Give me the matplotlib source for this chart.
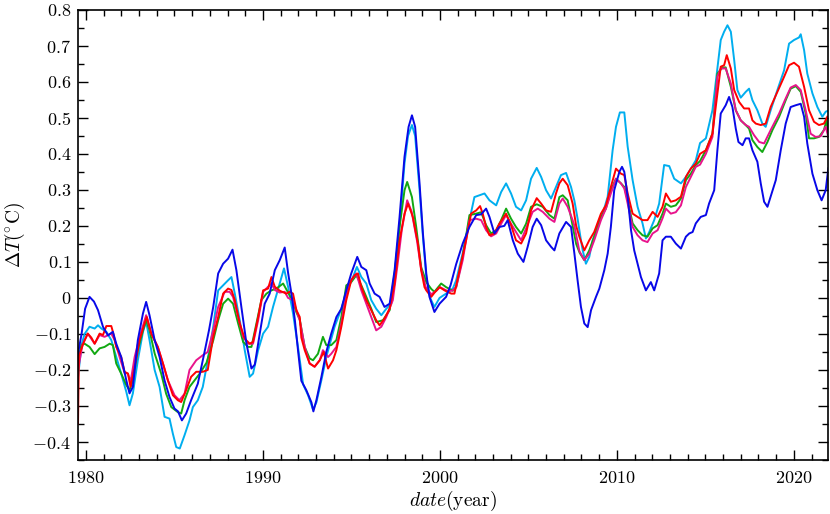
import matplotlib
matplotlib.use("Agg")
import matplotlib.pyplot as plt
from matplotlib.ticker import MultipleLocator, FuncFormatter

plt.rcParams['font.family'] = 'serif'
plt.rcParams['font.serif'] = ['cmr10']
plt.rcParams['mathtext.fontset'] = 'cm'
plt.rcParams['axes.formatter.use_mathtext'] = True

# red series
red_t = [1979.55, 1979.6, 1979.9, 1980.1, 1980.3, 1980.49, 1980.77, 1980.96, 1981.15, 1981.43,
         1981.52, 1981.71, 1981.99, 1982.18, 1982.37, 1982.52, 1982.75, 1983.03, 1983.31, 1983.44,
         1983.69, 1984.06, 1984.35, 1984.63, 1984.91, 1985.19, 1985.38, 1985.66, 1985.94, 1986.23,
         1986.6, 1986.88, 1987.19, 1987.47, 1987.75, 1988.03, 1988.22, 1988.41, 1988.69, 1988.97,
         1989.25, 1989.44, 1989.73, 1990.01, 1990.29, 1990.48, 1990.67, 1990.95, 1991.32, 1991.51,
         1991.7, 1991.89, 1992.08, 1992.17, 1992.36, 1992.64, 1992.92, 1993.21, 1993.43, 1993.68,
         1993.96, 1994.15, 1994.43, 1994.71, 1994.99, 1995.18, 1995.37, 1995.56, 1995.84, 1996.12,
         1996.4, 1996.59, 1996.87, 1997.16, 1997.44, 1997.72, 1998.0, 1998.2, 1998.47, 1998.76,
         1998.94, 1999.13, 1999.23, 1999.51, 1999.7, 1999.98, 2000.26, 2000.64, 2000.82, 2001.11,
         2001.48, 2001.76, 2002.05, 2002.27, 2002.42, 2002.61, 2002.8, 2003.08, 2003.36, 2003.74,
         2004.02, 2004.3, 2004.59, 2004.87, 2005.15, 2005.47, 2005.72, 2006.0, 2006.28, 2006.56,
         2006.75, 2006.94, 2007.22, 2007.5, 2007.7, 2007.88, 2008.16, 2008.44, 2008.72, 2009.1,
         2009.38, 2009.66, 2009.95, 2010.23, 2010.42, 2010.61, 2010.89, 2011.17, 2011.45, 2011.73,
         2012.02, 2012.3, 2012.58, 2012.77, 2013.05, 2013.33, 2013.62, 2013.9, 2014.18, 2014.46,
         2014.7, 2015.03, 2015.4, 2015.68, 2015.87, 2016.06, 2016.21, 2016.44, 2016.63, 2016.91,
         2017.19, 2017.47, 2017.66, 2017.85, 2018.13, 2018.41, 2018.69, 2019.07, 2019.45, 2019.73,
         2020.01, 2020.29, 2020.58, 2020.86, 2021.14, 2021.42, 2021.7, 2021.89]
red_v = [-0.35, -0.16, -0.12, -0.099, -0.11, -0.127, -0.099, -0.103, -0.078, -0.078,
         -0.094, -0.136, -0.164, -0.205, -0.21, -0.247, -0.191, -0.117, -0.071, -0.053,
         -0.099, -0.136, -0.182, -0.229, -0.27, -0.284, -0.289, -0.256, -0.219, -0.205,
         -0.205, -0.2, -0.108, -0.053, 0.012, 0.026, 0.022, -0.006, -0.071, -0.113,
         -0.127, -0.122, -0.053, 0.021, 0.026, 0.058, 0.031, 0.02, 0.012, 0.017,
         0.012, -0.034, -0.053, -0.11, -0.145, -0.182, -0.191, -0.173, -0.15, -0.196,
         -0.173, -0.145, -0.08, -0.006, 0.049, 0.063, 0.068, 0.031, -0.006, -0.034,
         -0.062, -0.076, -0.057, -0.03, 0.04, 0.16, 0.234, 0.262, 0.225, 0.151,
         0.077, 0.03, 0.021, 0.003, 0.015, 0.03, 0.021, 0.012, 0.012, 0.077,
         0.16, 0.234, 0.243, 0.255, 0.234, 0.197, 0.174, 0.179, 0.206, 0.234,
         0.202, 0.16, 0.151, 0.179, 0.243, 0.277, 0.262, 0.243, 0.239, 0.29,
         0.318, 0.331, 0.313, 0.262, 0.2, 0.17, 0.132, 0.16, 0.183, 0.234,
         0.257, 0.308, 0.359, 0.345, 0.341, 0.29, 0.234, 0.225, 0.216, 0.216,
         0.239, 0.225, 0.253, 0.29, 0.267, 0.271, 0.281, 0.336, 0.359, 0.373,
         0.4, 0.41, 0.456, 0.568, 0.642, 0.646, 0.674, 0.637, 0.577, 0.544,
         0.526, 0.526, 0.493, 0.484, 0.48, 0.484, 0.53, 0.572, 0.614, 0.646,
         0.653, 0.642, 0.586, 0.521, 0.489, 0.48, 0.484, 0.503]

# magenta series
mag_t = [1979.55, 1979.8, 1980.1, 1980.49, 1980.77, 1981.05, 1981.43, 1981.62, 1981.9, 1982.18,
         1982.37, 1982.52, 1982.75, 1983.03, 1983.4, 1983.69, 1984.06, 1984.35, 1984.63, 1985.0,
         1985.28, 1985.57, 1985.85, 1986.23, 1986.6, 1986.88, 1987.19, 1987.47, 1987.84, 1988.12,
         1988.31, 1988.6, 1988.88, 1989.16, 1989.44, 1989.73, 1990.01, 1990.29, 1990.48, 1990.67,
         1990.95, 1991.23, 1991.42, 1991.7, 1992.08, 1992.36, 1992.64, 1992.92, 1993.21, 1993.39,
         1993.68, 1993.86, 1994.15, 1994.43, 1994.71, 1994.99, 1995.28, 1995.56, 1995.84, 1996.12,
         1996.4, 1996.69, 1996.97, 1997.34, 1997.6, 1997.85, 1998.15, 1998.4, 1998.7, 1998.94,
         1999.2, 1999.51, 1999.8, 2000.0, 2000.4, 2000.7, 2000.92, 2001.29, 2001.67, 2002.05,
         2002.33, 2002.61, 2002.89, 2003.18, 2003.46, 2003.74, 2004.02, 2004.3, 2004.59, 2004.87,
         2005.24, 2005.53, 2005.81, 2006.19, 2006.47, 2006.75, 2006.94, 2007.22, 2007.5, 2007.6,
         2007.88, 2008.16, 2008.44, 2008.72, 2009.1, 2009.38, 2009.66, 2009.95, 2010.23, 2010.42,
         2010.61, 2010.89, 2011.17, 2011.45, 2011.73, 2012.02, 2012.3, 2012.58, 2012.77, 2013.05,
         2013.33, 2013.62, 2013.9, 2014.18, 2014.46, 2014.7, 2015.03, 2015.4, 2015.68, 2015.87,
         2016.15, 2016.44, 2016.72, 2017.0, 2017.28, 2017.47, 2017.75, 2018.04, 2018.32, 2018.69,
         2019.17, 2019.54, 2019.82, 2020.11, 2020.39, 2020.67, 2020.95, 2021.23, 2021.52, 2021.8,
         2021.95]
mag_v = [-0.2, -0.13, -0.099, -0.127, -0.103, -0.108, -0.099, -0.117, -0.164, -0.208,
         -0.21, -0.233, -0.164, -0.108, -0.048, -0.099, -0.136, -0.182, -0.229, -0.27,
         -0.284, -0.266, -0.2, -0.173, -0.159, -0.15, -0.09, -0.025, 0.017, 0.017,
         0.003, -0.053, -0.108, -0.127, -0.127, -0.062, 0.017, 0.031, 0.04, 0.022,
         0.015, 0.017, 0.0, -0.006, -0.062, -0.136, -0.182, -0.191, -0.173, -0.145,
         -0.164, -0.155, -0.136, -0.071, 0.012, 0.049, 0.068, 0.021, -0.016, -0.053,
         -0.09, -0.08, -0.053, -0.006, 0.09, 0.19, 0.271, 0.24, 0.16, 0.08,
         0.03, 0.01, 0.02, 0.03, 0.02, 0.02, 0.03, 0.105, 0.216, 0.22,
         0.216, 0.188, 0.171, 0.179, 0.206, 0.23, 0.206, 0.183, 0.16, 0.193,
         0.239, 0.248, 0.239, 0.22, 0.211, 0.262, 0.276, 0.253, 0.216, 0.2,
         0.13, 0.105, 0.123, 0.16, 0.216, 0.248, 0.29, 0.331, 0.318, 0.304,
         0.262, 0.197, 0.174, 0.16, 0.155, 0.179, 0.188, 0.221, 0.248, 0.234,
         0.238, 0.257, 0.308, 0.336, 0.364, 0.37, 0.4, 0.447, 0.614, 0.637,
         0.637, 0.595, 0.521, 0.493, 0.48, 0.475, 0.452, 0.433, 0.429, 0.466,
         0.512, 0.554, 0.584, 0.591, 0.577, 0.521, 0.456, 0.447, 0.449, 0.475,
         0.447]

# green series
grn_t = [1979.55, 1979.75, 1979.92, 1980.2, 1980.49, 1980.77, 1981.05, 1981.34, 1981.52, 1981.71,
         1981.99, 1982.28, 1982.46, 1982.65, 1982.93, 1983.22, 1983.4, 1983.59, 1983.88, 1984.25,
         1984.53, 1984.82, 1985.19, 1985.38, 1985.57, 1985.85, 1986.13, 1986.43, 1986.81, 1987.19,
         1987.47, 1987.75, 1988.03, 1988.31, 1988.6, 1988.88, 1989.16, 1989.35, 1989.63, 1989.91,
         1990.2, 1990.48, 1990.76, 1991.14, 1991.42, 1991.7, 1991.89, 1992.08, 1992.36, 1992.64,
         1992.83, 1993.11, 1993.39, 1993.58, 1993.86, 1994.15, 1994.43, 1994.71, 1994.99, 1995.28,
         1995.56, 1995.84, 1996.12, 1996.4, 1996.78, 1997.16, 1997.44, 1997.72, 1998.0, 1998.15,
         1998.42, 1998.66, 1998.94, 1999.23, 1999.51, 1999.69, 2000.07, 2000.35, 2000.73, 2000.92,
         2001.29, 2001.67, 2002.05, 2002.33, 2002.61, 2002.89, 2003.18, 2003.46, 2003.74, 2004.02,
         2004.3, 2004.59, 2004.87, 2005.15, 2005.47, 2005.81, 2006.19, 2006.47, 2006.75, 2006.94,
         2007.22, 2007.5, 2007.7, 2007.9, 2008.16, 2008.44, 2008.72, 2009.1, 2009.38, 2009.66,
         2009.95, 2010.23, 2010.42, 2010.61, 2010.89, 2011.17, 2011.45, 2011.73, 2012.02, 2012.3,
         2012.58, 2012.77, 2013.05, 2013.33, 2013.62, 2013.9, 2014.18, 2014.46, 2014.7, 2015.03,
         2015.4, 2015.68, 2015.97, 2016.15, 2016.44, 2016.72, 2017.0, 2017.28, 2017.47, 2017.66,
         2017.94, 2018.22, 2018.51, 2018.79, 2019.17, 2019.54, 2019.82, 2020.11, 2020.39, 2020.67,
         2020.86, 2021.14, 2021.42, 2021.7, 2021.85, 2021.95]
grn_v = [-0.17, -0.13, -0.127, -0.136, -0.156, -0.14, -0.136, -0.127, -0.131, -0.182,
         -0.21, -0.242, -0.256, -0.229, -0.145, -0.09, -0.062, -0.09, -0.154, -0.21,
         -0.266, -0.303, -0.317, -0.321, -0.284, -0.247, -0.229, -0.21, -0.18, -0.118,
         -0.062, -0.016, -0.002, -0.016, -0.071, -0.122, -0.136, -0.136, -0.071, -0.006,
         0.012, 0.021, 0.026, 0.04, 0.015, -0.01, -0.04, -0.06, -0.136, -0.168,
         -0.173, -0.155, -0.108, -0.131, -0.131, -0.117, -0.053, 0.035, 0.044, 0.063,
         0.035, 0.003, -0.03, -0.067, -0.062, -0.034, 0.07, 0.197, 0.299, 0.322,
         0.28, 0.197, 0.086, 0.044, 0.025, 0.017, 0.04, 0.03, 0.02, 0.03,
         0.115, 0.23, 0.234, 0.238, 0.202, 0.179, 0.188, 0.216, 0.248, 0.22,
         0.197, 0.179, 0.206, 0.253, 0.26, 0.253, 0.23, 0.22, 0.28, 0.285,
         0.271, 0.2, 0.15, 0.125, 0.105, 0.132, 0.17, 0.225, 0.248, 0.299,
         0.331, 0.318, 0.308, 0.271, 0.207, 0.188, 0.174, 0.17, 0.193, 0.202,
         0.234, 0.262, 0.253, 0.257, 0.276, 0.327, 0.345, 0.369, 0.38, 0.41,
         0.456, 0.623, 0.64, 0.64, 0.586, 0.521, 0.493, 0.48, 0.47, 0.438,
         0.419, 0.405, 0.433, 0.466, 0.503, 0.549, 0.581, 0.588, 0.572, 0.512,
         0.443, 0.443, 0.447, 0.466, 0.494, 0.447]

# dark blue series
blu_t = [1979.55, 1979.75, 1979.95, 1980.2, 1980.45, 1980.68, 1980.96, 1981.24, 1981.52, 1981.71,
         1981.99, 1982.28, 1982.46, 1982.65, 1982.93, 1983.22, 1983.4, 1983.59, 1983.88, 1984.16,
         1984.44, 1984.72, 1985.0, 1985.2, 1985.42, 1985.66, 1985.94, 1986.32, 1986.7, 1986.95,
         1987.19, 1987.47, 1987.75, 1988.03, 1988.28, 1988.5, 1988.78, 1989.07, 1989.35, 1989.54,
         1989.82, 1990.1, 1990.38, 1990.67, 1990.95, 1991.23, 1991.42, 1991.61, 1991.8, 1991.98,
         1992.17, 1992.45, 1992.74, 1992.85, 1993.02, 1993.3, 1993.58, 1993.86, 1994.15, 1994.43,
         1994.71, 1994.99, 1995.33, 1995.56, 1995.84, 1996.03, 1996.31, 1996.59, 1996.87, 1997.16,
         1997.44, 1997.72, 1998.0, 1998.23, 1998.42, 1998.6, 1998.85, 1999.04, 1999.23, 1999.41,
         1999.69, 1999.98, 2000.35, 2000.6, 2000.92, 2001.29, 2001.67, 2002.05, 2002.33, 2002.61,
         2002.8, 2003.08, 2003.36, 2003.64, 2003.83, 2004.12, 2004.4, 2004.72, 2004.96, 2005.24,
         2005.47, 2005.72, 2006.0, 2006.28, 2006.47, 2006.75, 2007.13, 2007.41, 2007.6, 2007.78,
         2007.97, 2008.16, 2008.35, 2008.54, 2008.82, 2009.01, 2009.29, 2009.48, 2009.66, 2009.85,
         2010.14, 2010.29, 2010.42, 2010.61, 2010.8, 2010.98, 2011.17, 2011.36, 2011.64, 2011.92,
         2012.11, 2012.39, 2012.58, 2012.77, 2013.05, 2013.33, 2013.62, 2013.9, 2014.09, 2014.28,
         2014.46, 2014.74, 2015.03, 2015.21, 2015.5, 2015.68, 2015.87, 2016.15, 2016.34, 2016.53,
         2016.72, 2016.87, 2017.1, 2017.28, 2017.47, 2017.66, 2017.94, 2018.13, 2018.32, 2018.51,
         2018.69, 2018.98, 2019.26, 2019.54, 2019.82, 2020.11, 2020.39, 2020.58, 2020.76, 2021.05,
         2021.33, 2021.57, 2021.8, 2021.95]
blu_v = [-0.155, -0.1, -0.03, 0.003, -0.01, -0.034, -0.08, -0.104, -0.094, -0.127,
         -0.164, -0.229, -0.265, -0.247, -0.117, -0.043, -0.011, -0.048, -0.117, -0.164,
         -0.229, -0.275, -0.307, -0.315, -0.34, -0.321, -0.284, -0.238, -0.15, -0.09,
         -0.025, 0.068, 0.095, 0.109, 0.134, 0.077, -0.025, -0.127, -0.196, -0.185,
         -0.099, -0.016, 0.012, 0.077, 0.105, 0.14, 0.07, 0.012, -0.06, -0.145,
         -0.23, -0.256, -0.29, -0.315, -0.284, -0.22, -0.15, -0.099, -0.053, -0.03,
         0.021, 0.068, 0.114, 0.086, 0.077, 0.04, 0.012, 0.003, -0.025, -0.016,
         0.077, 0.225, 0.392, 0.475, 0.507, 0.475, 0.318, 0.179, 0.068, 0.003,
         -0.039, -0.016, 0.003, 0.035, 0.094, 0.151, 0.197, 0.23, 0.232, 0.248,
         0.225, 0.179, 0.197, 0.2, 0.216, 0.16, 0.123, 0.1, 0.142, 0.197,
         0.22, 0.202, 0.16, 0.142, 0.132, 0.179, 0.211, 0.197, 0.123, 0.049,
         -0.025, -0.071, -0.081, -0.034, 0.003, 0.026, 0.077, 0.123, 0.197, 0.299,
         0.35, 0.364, 0.35, 0.281, 0.188, 0.132, 0.095, 0.058, 0.021, 0.044,
         0.021, 0.068, 0.16, 0.17, 0.17, 0.151, 0.137, 0.17, 0.179, 0.183,
         0.207, 0.225, 0.23, 0.262, 0.299, 0.41, 0.512, 0.535, 0.558, 0.53,
         0.47, 0.433, 0.424, 0.443, 0.443, 0.41, 0.378, 0.318, 0.267, 0.253,
         0.281, 0.327, 0.41, 0.484, 0.53, 0.535, 0.539, 0.503, 0.429, 0.345,
         0.299, 0.271, 0.299, 0.36]

# light blue series
cyn_t = [1979.55, 1979.75, 1979.92, 1980.2, 1980.49, 1980.68, 1980.87, 1981.15, 1981.43, 1981.71,
         1981.99, 1982.28, 1982.46, 1982.65, 1982.93, 1983.22, 1983.4, 1983.59, 1983.88, 1984.16,
         1984.44, 1984.72, 1984.91, 1985.1, 1985.3, 1985.57, 1985.85, 1986.04, 1986.32, 1986.6,
         1986.81, 1987.19, 1987.47, 1987.75, 1988.03, 1988.22, 1988.41, 1988.69, 1988.97, 1989.25,
         1989.44, 1989.73, 1990.01, 1990.29, 1990.57, 1990.95, 1991.19, 1991.42, 1991.7, 1991.98,
         1992.27, 1992.55, 1992.83, 1993.02, 1993.3, 1993.6, 1994.05, 1994.43, 1994.75, 1995.09,
         1995.31, 1995.56, 1995.84, 1996.12, 1996.4, 1996.69, 1996.97, 1997.25, 1997.44, 1997.72,
         1998.0, 1998.2, 1998.42, 1998.6, 1998.85, 1999.04, 1999.23, 1999.45, 1999.69, 1999.98,
         2000.35, 2000.73, 2000.92, 2001.29, 2001.67, 2001.95, 2002.23, 2002.52, 2002.8, 2003.18,
         2003.46, 2003.74, 2004.02, 2004.3, 2004.59, 2004.87, 2005.15, 2005.47, 2005.72, 2006.0,
         2006.28, 2006.56, 2006.84, 2007.13, 2007.41, 2007.6, 2007.78, 2007.97, 2008.07, 2008.25,
         2008.44, 2008.63, 2008.91, 2009.2, 2009.48, 2009.76, 2009.95, 2010.17, 2010.42, 2010.61,
         2010.89, 2011.17, 2011.45, 2011.64, 2011.83, 2012.11, 2012.39, 2012.67, 2012.96, 2013.24,
         2013.62, 2013.9, 2014.18, 2014.46, 2014.7, 2015.03, 2015.4, 2015.68, 2015.87, 2016.06,
         2016.25, 2016.44, 2016.63, 2016.81, 2017.0, 2017.28, 2017.47, 2017.66, 2017.94, 2018.22,
         2018.41, 2018.69, 2019.07, 2019.45, 2019.73, 2020.01, 2020.29, 2020.39, 2020.58, 2020.76,
         2021.05, 2021.33, 2021.61, 2021.8, 2021.95]
cyn_v = [-0.22, -0.13, -0.1, -0.08, -0.085, -0.076, -0.085, -0.094, -0.117, -0.164,
         -0.21, -0.261, -0.298, -0.265, -0.173, -0.094, -0.066, -0.117, -0.2, -0.247,
         -0.33, -0.335, -0.377, -0.414, -0.418, -0.381, -0.34, -0.303, -0.284, -0.247,
         -0.192, -0.08, 0.021, 0.035, 0.049, 0.058, 0.012, -0.062, -0.145, -0.219,
         -0.21, -0.145, -0.099, -0.08, -0.025, 0.04, 0.082, 0.031, -0.043, -0.136,
         -0.24, -0.27, -0.31, -0.29, -0.229, -0.16, -0.08, -0.03, 0.02, 0.058,
         0.086, 0.058, 0.04, -0.006, -0.03, -0.048, -0.03, -0.016, 0.06, 0.2,
         0.374, 0.45, 0.48, 0.45, 0.3, 0.17, 0.058, 0.0, -0.025, 0.0,
         0.012, 0.026, 0.049, 0.125, 0.216, 0.28, 0.285, 0.29, 0.271, 0.257,
         0.294, 0.318, 0.29, 0.253, 0.243, 0.271, 0.331, 0.361, 0.336, 0.299,
         0.276, 0.308, 0.341, 0.347, 0.308, 0.27, 0.22, 0.16, 0.132, 0.095,
         0.114, 0.16, 0.197, 0.234, 0.281, 0.41, 0.475, 0.515, 0.515, 0.42,
         0.327, 0.253, 0.207, 0.165, 0.183, 0.216, 0.262, 0.369, 0.366, 0.331,
         0.318, 0.336, 0.359, 0.382, 0.43, 0.443, 0.521, 0.637, 0.716, 0.739,
         0.757, 0.739, 0.66, 0.577, 0.556, 0.572, 0.581, 0.549, 0.521, 0.484,
         0.475, 0.521, 0.577, 0.632, 0.706, 0.716, 0.723, 0.732, 0.688, 0.623,
         0.568, 0.53, 0.503, 0.517, 0.52]

fig = plt.figure(figsize=(8.3, 5.14), dpi=100)
ax = fig.add_axes([0.094, 0.105, 0.904, 0.876])

lw = 1.4
ax.plot(cyn_t, cyn_v, color='#00AEEF', lw=lw)
ax.plot(grn_t, grn_v, color='#12A812', lw=lw)
ax.plot(mag_t, mag_v, color='#E8148C', lw=lw)
ax.plot(red_t, red_v, color='#FF0000', lw=lw)
ax.plot(blu_t, blu_v, color='#0808E8', lw=lw)

ax.set_xlim(1979.55, 2021.95)
ax.set_ylim(-0.45, 0.8)

ax.xaxis.set_major_locator(MultipleLocator(10))
ax.xaxis.set_minor_locator(MultipleLocator(1))
ax.yaxis.set_major_locator(MultipleLocator(0.1))
ax.yaxis.set_minor_locator(MultipleLocator(0.05))


def yfmt(v, pos):
    v = round(v, 2) + 0.0
    return r'$%g$' % v


ax.yaxis.set_major_formatter(FuncFormatter(yfmt))
ax.xaxis.set_major_formatter(FuncFormatter(lambda v, p: r'$%d$' % round(v)))

ax.tick_params(which='both', direction='in', top=True, right=True, labelsize=13)
ax.tick_params(which='major', length=7, width=1.0)
ax.tick_params(which='minor', length=4, width=1.0)
ax.tick_params(axis='x', pad=7)
ax.tick_params(axis='y', pad=5)
for s in ax.spines.values():
    s.set_linewidth(1.2)

ax.set_xlabel(r'$date(\mathrm{year})$', fontsize=14, labelpad=2)
ax.set_ylabel(r'$\Delta T(^{\circ}\mathrm{C})$', fontsize=14, labelpad=4)

fig.savefig('out.png', dpi=100)
